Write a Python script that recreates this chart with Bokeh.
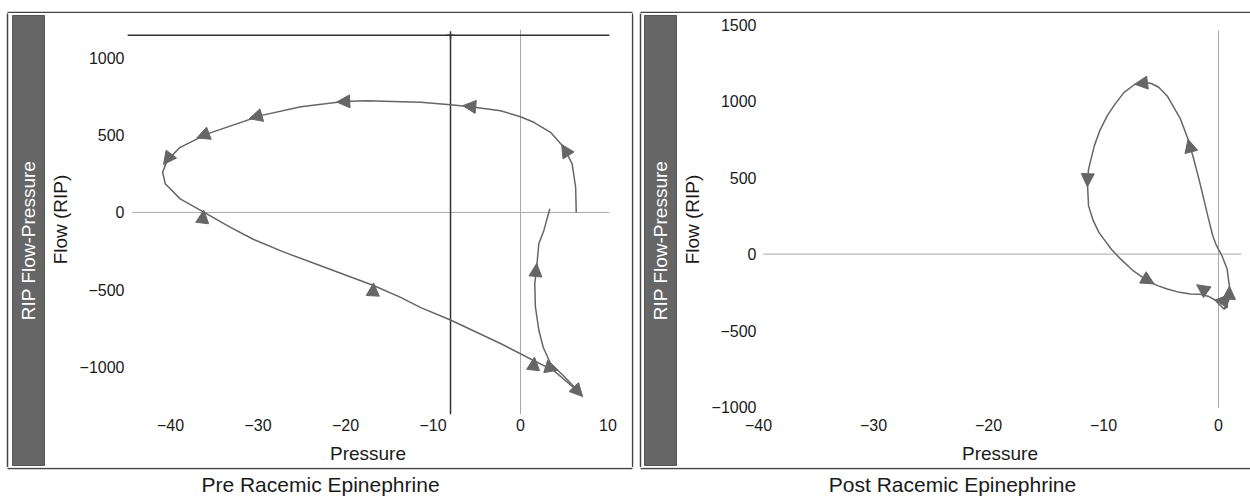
import math
from bokeh.plotting import figure
from bokeh.models import ColumnDataSource, FixedTicker, Range1d, Arrow, NormalHead
from bokeh.layouts import row, column
from bokeh.core.properties import value
from bokeh.embed import file_html
from bokeh.resources import INLINE

FONT = "Liberation Sans"
CURVE = "#666666"
TXT = "#1a1a1a"
FRAME = "#444444"
BAR = "#666666"

# ------------------------------------------------------------------ Pre panel data
pre_title = "Pre Racemic Epinephrine"
side_text = "RIP Flow-Pressure"
pre_xticks = [-40, -30, -20, -10, 0, 10]
pre_xtick_labels = ["−40", "−30", "−20", "−10", "0", "10"]
pre_yticks = [-1000, -500, 0, 500, 1000]
pre_ytick_labels = ["−1000", "−500", "0", "500", "1000"]

pre_loop_pressure = [6.37, 6.3, 5.9, 4.95, 3.43, 1.52, 0.0, -2.29, -5.7, -8.0, -11.4, -13.7,
                     -17.5, -20.2, -25.1, -29.7, -35.8, -38.9, -40.4, -40.9, -40.6, -38.9,
                     -36.2, -33.2, -30.5, -27.1, -22.0, -16.8, -13.7, -11.4, -8.0, -2.29,
                     1.49, 3.77, 6.86]
pre_loop_flow = [0, 163, 314, 421, 518, 583, 619, 658, 684, 697, 712, 716,
                 722, 718, 684, 626, 508, 421, 335, 260, 185, 88,
                 2, -95, -175, -255, -362, -472, -549, -615, -695, -847,
                 -957, -1021, -1170]

pre_return_pressure = [6.86, 5.0, 3.43, 2.6, 2.1, 1.7, 1.63, 1.83, 2.1, 2.67, 3.35]
pre_return_flow = [-1170, -1060, -976, -873, -763, -611, -460, -363, -200, -116, 24]

pre_arrow_p0 = [5.7, -4.0, -18.0, -28.0, -34.8, -40.0, -36.4, -16.9, 1.4, 2.6, 5.2, 1.63]
pre_arrow_f0 = [350, 676, 722, 655, 530, 370, -80, -560, -1040, -990, -1075, -460]
pre_arrow_p1 = [4.7, -6.6, -21.0, -31.0, -37.0, -40.8, -36.2, -16.8, 1.6, 4.3, 7.1, 1.85]
pre_arrow_f1 = [440, 690, 714, 606, 482, 310, 15, -455, -935, -1020, -1190, -330]

pre_cursor_pressure = -8.0
pre_cursor_flow = 1145

# ------------------------------------------------------------------ Post panel data
post_title = "Post Racemic Epinephrine"
post_xticks = [-40, -30, -20, -10, 0]
post_xtick_labels = ["−40", "−30", "−20", "−10", "0"]
post_yticks = [-1000, -500, 0, 500, 1000, 1500]
post_ytick_labels = ["−1000", "−500", "0", "500", "1000", "1500"]

post_loop_pressure = [0.46, 0.9, 1.0, 0.75, 0.3, -0.2, -0.5, -0.9, -1.28, -1.7, -2.15, -2.6,
                      -3.3, -4.46, -5.2, -5.9, -6.5, -7.3, -8.23, -9.0, -9.68, -10.3, -10.8,
                      -11.3, -11.4, -11.3, -10.9, -10.4, -9.97, -9.3, -8.5, -7.4, -6.2, -5.3,
                      -4.46, -3.4, -2.43, -1.6, -0.9, -0.3, 0.1, 0.5, 0.7, 0.2, 0.6, 1.0, 0.4,
                      0.8, 0.46]
post_loop_flow = [-359, -300, -239, -98, -11, 60, 120, 240, 359, 490, 620, 740,
                  881, 1033, 1090, 1116, 1121, 1108, 1055, 980, 903, 810, 707,
                  555, 470, 315, 220, 142, 98, 30, -33, -110, -174, -206,
                  -228, -250, -261, -262, -275, -300, -330, -360, -340, -310, -300, -280, -320,
                  -345, -359]

post_arrow_p0 = [-2.2, -6.0, -11.35, -7.3, -0.2, 1.0, 0.9]
post_arrow_f0 = [620, 1122, 570, -120, -290, -310, -320]
post_arrow_p1 = [-2.65, -7.3, -11.4, -5.6, -1.9, -0.3, 0.95]
post_arrow_f1 = [750, 1110, 440, -195, -200, -300, -210]


# ------------------------------------------------------------------ helpers
def deco(x0, x1, y0, y1):
    """Blank strip in page-pixel coordinates (y grows downward)."""
    f = figure(width=x1 - x0, height=y1 - y0,
               x_range=Range1d(x0, x1), y_range=Range1d(y1, y0),
               x_axis_type=None, y_axis_type=None,
               output_backend="svg", toolbar_location=None,
               min_border=0, min_border_left=0, min_border_right=0,
               min_border_top=0, min_border_bottom=0)
    f.outline_line_color = None
    f.grid.visible = False
    f.background_fill_color = "white"
    f.border_fill_color = "white"
    return f


def main_panel(width, bl, br, xr, yr, xt, xtl, yt, ytl):
    p = figure(width=width, height=454, x_range=Range1d(*xr), y_range=Range1d(*yr),
               output_backend="svg", toolbar_location=None,
               min_border_left=bl, min_border_right=br,
               min_border_top=11, min_border_bottom=53)
    p.outline_line_color = None
    p.grid.visible = False
    p.background_fill_color = "white"
    p.border_fill_color = "white"
    for ax in (p.xaxis[0], p.yaxis[0]):
        ax.axis_line_color = None
        ax.major_tick_line_color = None
        ax.minor_tick_line_color = None
        ax.major_tick_out = 0
        ax.major_tick_in = 0
        ax.minor_tick_out = 0
        ax.minor_tick_in = 0
        ax.major_label_text_font = FONT
        ax.major_label_text_font_size = "16px"
        ax.major_label_text_color = TXT
        ax.axis_label_text_font = FONT
        ax.axis_label_text_font_size = "19px"
        ax.axis_label_text_font_style = "normal"
        ax.axis_label_text_color = TXT
    p.xaxis.ticker = FixedTicker(ticks=xt)
    p.xaxis.major_label_overrides = dict(zip(xt, xtl))
    p.yaxis.ticker = FixedTicker(ticks=yt)
    p.yaxis.major_label_overrides = dict(zip(yt, ytl))
    p.xaxis.axis_label = "Pressure"
    p.yaxis.axis_label = "Flow (RIP)"
    p.xaxis.major_label_standoff = 4
    p.yaxis.major_label_standoff = 2
    p.xaxis.axis_label_standoff = 9
    p.yaxis.axis_label_standoff = 6
    return p


def add_arrows(p, p0, f0, p1, f1, size=13):
    src = ColumnDataSource(dict(x0=p0, y0=f0, x1=p1, y1=f1))
    p.add_layout(Arrow(end=NormalHead(size=size, fill_color=CURVE, line_color=CURVE,
                                      line_width=1),
                       x_start="x0", y_start="y0", x_end="x1", y_end="y1",
                       source=src, line_alpha=0))


def side_bar(f, x_left, x_right):
    f.quad(left=[x_left], right=[x_right], top=[15], bottom=[465],
           fill_color=BAR, line_color="#555555", line_width=1)
    f.text(x=[(x_left + x_right) / 2], y=[240], text=[side_text], angle=math.pi / 2,
           text_align="center", text_baseline="middle", text_color="white",
           text_font=value(FONT), text_font_size="19px")


# ------------------------------------------------------------------ decorations
top = deco(0, 1250, 0, 13)
top.segment(x0=[7, 640], y0=[12, 12], x1=[632, 1260], y1=[12, 12],
            line_color=FRAME, line_width=1.5)

bottom = deco(0, 1250, 467, 497)
bottom.segment(x0=[7, 640], y0=[468, 468], x1=[632, 1260], y1=[468, 468],
               line_color=FRAME, line_width=1.5)
bottom.text(x=[320, 952], y=[484, 484], text=[pre_title, post_title],
            text_align="center", text_baseline="middle", text_color=TXT,
            text_font=value(FONT), text_font_size="21px")

left_edge = deco(0, 45, 13, 467)
left_edge.segment(x0=[7], y0=[5], x1=[7], y1=[475], line_color=FRAME, line_width=1.5)
side_bar(left_edge, 12, 44)

gap = deco(631, 677, 13, 467)
gap.segment(x0=[632, 640], y0=[5, 5], x1=[632, 640], y1=[475, 475],
            line_color=FRAME, line_width=1.5)
side_bar(gap, 644, 676)

# ------------------------------------------------------------------ Pre figure
p1 = main_panel(586, 81, 22, (-45.03, 10.17), (-1306, 1215),
                pre_xticks, pre_xtick_labels, pre_yticks, pre_ytick_labels)
p1.segment(x0=[-44.4, 0], y0=[0, -1306], x1=[10.2, 0], y1=[0, 1181],
           line_color="#aaaaaa", line_width=1)
p1.segment(x0=[-44.9, pre_cursor_pressure], y0=[pre_cursor_flow, -1306],
           x1=[10.2, pre_cursor_pressure], y1=[pre_cursor_flow, pre_cursor_flow],
           line_color="#333333", line_width=1.5)
p1.scatter(x=[pre_cursor_pressure], y=[pre_cursor_flow], marker="cross", size=8,
           line_color="#333333", line_width=1.5)
p1.line(pre_loop_pressure, pre_loop_flow, line_color=CURVE, line_width=1.5)
p1.line(pre_return_pressure, pre_return_flow, line_color=CURVE, line_width=1.5)
add_arrows(p1, pre_arrow_p0, pre_arrow_f0, pre_arrow_p1, pre_arrow_f1)

# ------------------------------------------------------------------ Post figure
p2 = main_panel(573, 81, 9, (-40.0, 2.0), (-1048, 1500),
                post_xticks, post_xtick_labels, post_yticks, post_ytick_labels)
p2.segment(x0=[-39.6, 0], y0=[0, -1005], x1=[2.0, 0], y1=[0, 1460],
           line_color="#aaaaaa", line_width=1)
p2.line(post_loop_pressure, post_loop_flow, line_color=CURVE, line_width=1.5)
add_arrows(p2, post_arrow_p0, post_arrow_f0, post_arrow_p1, post_arrow_f1)

middle = row(column(left_edge), column(p1), column(gap), column(p2), spacing=0)
layout = column(top, middle, bottom, spacing=0)
open("out.html", "w").write(file_html(layout, INLINE))
